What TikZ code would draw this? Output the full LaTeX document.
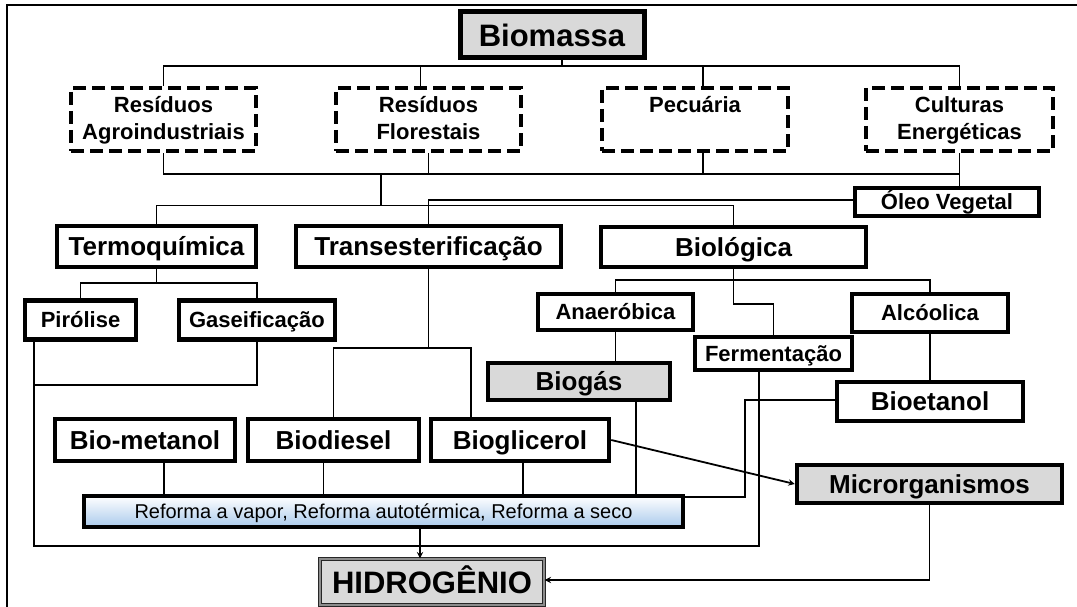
\documentclass[tikz,border=0pt]{standalone}
\usepackage{fontspec}
\setmainfont{Liberation Sans}
\definecolor{cinza}{RGB}{217,217,217}
\definecolor{azulref}{RGB}{170,202,236}
\tikzset{
  fio/.style={line width=1.8pt},
  caixa/.style={draw,line width=4.5pt,fill=white,inner sep=0pt,
    text height=18.6pt,text depth=0pt,
    font=\fontsize{26}{30}\selectfont\bfseries},
  caixap/.style={caixa,text height=15.8pt,font=\fontsize{22}{27}\selectfont\bfseries},
  caixag/.style={caixa,text height=22.2pt,font=\fontsize{31}{36}\selectfont\bfseries},
  fonte/.style={draw,line width=4.5pt,dash pattern=on 13pt off 6pt,inner sep=0pt,
    align=center,text height=45pt,text depth=4pt,
    font=\fontsize{22}{27}\selectfont\bfseries},
}
\begin{document}
\begin{tikzpicture}[x=1pt,y=-1pt,>=stealth]
   \useasboundingbox (0,0) rectangle (1077,607);
   % 枠
   \draw[line width=1.5pt] (1077,5) -- (7,5) -- (7,607);

   % ノード
   \node[caixag,fill=cinza,line width=5pt,minimum width=184,minimum height=46] (bio) at (552,35) {Biomassa};
   \node[fonte,minimum width=185,minimum height=63] (agro) at (163.5,119.5) {Resíduos\\Agroindustriais};
   \node[fonte,minimum width=185,minimum height=63] (flor) at (428.5,119.5) {Resíduos\\Florestais};
   \node[fonte,minimum width=186,minimum height=63] (pec) at (695,119.5) {Pecuária\\\strut};
   \node[fonte,minimum width=187,minimum height=63] (cult) at (959.5,119.5) {Culturas\\Energéticas};
   \node[caixap,minimum width=184,minimum height=28] (oleo) at (947,202) {Óleo Vegetal};

   \node[caixa,minimum width=199,minimum height=41] (termo) at (156.5,246.5) {Termoquímica};
   \node[caixa,minimum width=265,minimum height=41] (trans) at (428.5,246.5) {Transesterificação};
   \node[caixa,minimum width=265,minimum height=40] (biol) at (733.5,247) {Biológica};

   \node[caixap,minimum width=111,minimum height=39] (piro) at (80.5,320) {Pirólise};
   \node[caixap,minimum width=156,minimum height=39] (gas) at (257,320) {Gaseificação};
   \node[caixap,minimum width=155,minimum height=36] (anae) at (615.5,312) {Anaeróbica};
   \node[caixap,minimum width=156,minimum height=38] (alco) at (930,313) {Alcóolica};
   \node[caixap,minimum width=157,minimum height=33] (ferm) at (773.5,353.5) {Fermentação};

   \node[caixa,fill=cinza,minimum width=182,minimum height=37] (biogas) at (579,381.5) {Biogás};
   \node[caixa,minimum width=186,minimum height=39] (bioet) at (930,401.5) {Bioetanol};
   \node[caixa,minimum width=180,minimum height=42] (biomet) at (145,440) {Bio-metanol};
   \node[caixa,minimum width=171,minimum height=42] (biodi) at (333.5,440) {Biodiesel};
   \node[caixa,minimum width=178,minimum height=42] (biogli) at (520,440) {Bioglicerol};
   \node[caixa,fill=cinza,minimum width=265,minimum height=38] (micro) at (929.5,484) {Microrganismos};

   \node[caixa,top color=white,bottom color=azulref,minimum width=599,minimum height=31,
     text height=14.3pt,font=\fontsize{20}{24}\selectfont] (ref) at (383.5,511.5)
     {Reforma a vapor, Reforma autotérmica, Reforma a seco};
   \node[caixag,draw=black!85,line width=1.3pt,double=black!45,double distance=2pt,fill=cinza,
     minimum width=224,minimum height=46] (hid) at (432,582) {HIDROGÊNIO};

   % 線
   \coordinate (bus1) at (562,66);
   \draw[fio] (bio.south -| bus1) -- (bus1);
   \draw[fio] (agro.north) |- (bus1) -| (cult.north);
   \draw[fio] ([xshift=-8]flor.north) -- ([xshift=-8]flor.north |- bus1);
   \draw[fio] ([xshift=8]pec.north) -- ([xshift=8]pec.north |- bus1);

   \coordinate (bus2) at (381,174);
   \draw[fio] (agro.south) |- (bus2) -| (cult.south) -- (cult.south |- oleo.north);
   \draw[fio] (flor.south) -- (flor.south |- bus2);
   \draw[fio] ([xshift=8]pec.south) -- ([xshift=8]pec.south |- bus2);
   \draw[fio] (bus2) -- (381,205.5) coordinate (bus3);
   \draw[fio] (termo.north) |- (bus3) -| (biol.north);
   \draw[fio] ([yshift=2]oleo.west) -| (trans.north);

   \coordinate (bus4) at (termo.south |- 0,283);
   \draw[fio] (termo.south) -- (bus4);
   \draw[fio] (piro.north) |- (bus4) -| (gas.north);

   \coordinate (bus5) at (biol.south |- 0,280);
   \draw[fio] (biol.south) -- (bus5);
   \draw[fio] (anae.north) |- (bus5) -| (alco.north);
   \draw[fio] (biol.south) -- ++(0,35) -| (ferm.north);

   \draw[fio] (trans.south) -- ++(0,79) coordinate (bus6);
   \draw[fio] (biodi.north) |- (bus6) -| ([xshift=-49]biogli.north);

   \draw[fio] (anae.south) -- (anae.south |- biogas.north);
   \draw[fio] ([xshift=57]biogas.south) -- ([xshift=57]biogas.south |- ref.north);
   \draw[fio] (alco.south) -- (bioet.north);
   \draw[fio] ([yshift=1.5]bioet.west) -- ++(-90,0) |- ([yshift=-3]ref.north east);

   \draw[fio] ([xshift=19]biomet.south) -- ([xshift=19]biomet.south |- ref.north);
   \draw[fio] ([xshift=-10]biodi.south) -- ([xshift=-10]biodi.south |- ref.north);
   \draw[fio] ([xshift=3]biogli.south) -- ([xshift=3]biogli.south |- ref.north);

   % 熱化学のループ
   \coordinate (jp) at ([xshift=-46.5]piro.south |- 0,385);
   \draw[fio] ([xshift=-46.5]piro.south) -- ++(0,204) -| ([xshift=-14.5]ferm.south);
   \draw[fio] (gas.south) |- (jp);

   % 矢印
   \draw[fio,->] ([xshift=36.5]ref.south) -- ([xshift=36.5]ref.south |- hid.north);
   \draw[fio,->] (biogli.east) -- (micro.west);
   \draw[fio,->] (micro.south) |- ([yshift=2]hid.east);
\end{tikzpicture}
\end{document}
